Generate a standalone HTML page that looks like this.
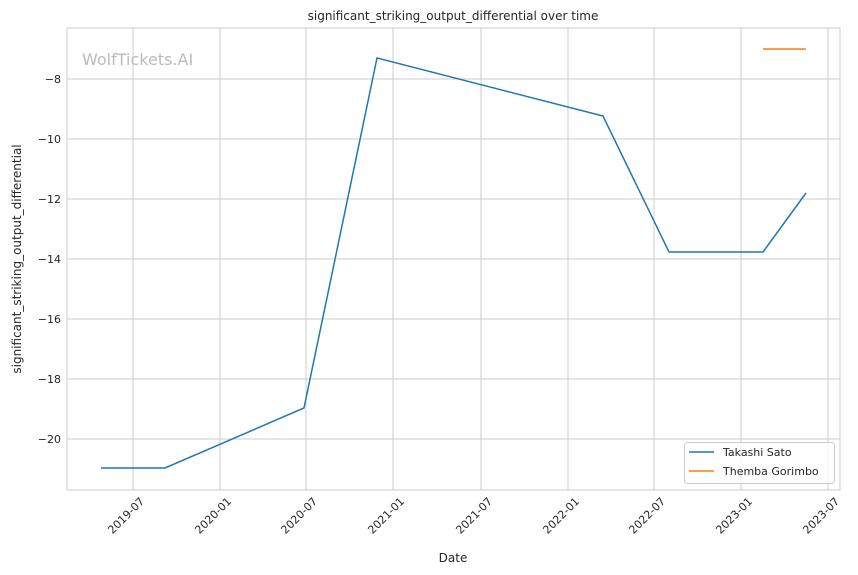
<!DOCTYPE html>
<html><head><meta charset="utf-8"><style>body{margin:0;background:#fff}svg{display:block}</style></head>
<body>
<svg width="858" height="575" xmlns="http://www.w3.org/2000/svg" font-family="DejaVu Sans, Liberation Sans, sans-serif">
<rect width="858" height="575" fill="#fff"/>
<g stroke="#cccccc" stroke-width="1">
<line x1="133" y1="28" x2="133" y2="490"/><line x1="220" y1="28" x2="220" y2="490"/><line x1="306" y1="28" x2="306" y2="490"/><line x1="393" y1="28" x2="393" y2="490"/><line x1="481" y1="28" x2="481" y2="490"/><line x1="568" y1="28" x2="568" y2="490"/><line x1="654" y1="28" x2="654" y2="490"/><line x1="741" y1="28" x2="741" y2="490"/><line x1="828" y1="28" x2="828" y2="490"/>
<line x1="67" y1="79" x2="840" y2="79"/><line x1="67" y1="139" x2="840" y2="139"/><line x1="67" y1="199" x2="840" y2="199"/><line x1="67" y1="259" x2="840" y2="259"/><line x1="67" y1="319" x2="840" y2="319"/><line x1="67" y1="379" x2="840" y2="379"/><line x1="67" y1="439" x2="840" y2="439"/>
</g>
<rect x="67" y="28" width="773" height="462" fill="none" stroke="#cccccc" stroke-width="1"/>
<text x="82" y="65" font-size="16" fill="#bbbbbb">WolfTickets.AI</text>
<polyline points="101,468 165,468 304,408 377,58 603,116 669,252 763,252 806,193" fill="none" stroke="#1f77b4" stroke-width="1.5"/>
<line x1="763" y1="49" x2="806" y2="49" stroke="#ff7f0e" stroke-width="1.5"/>
<g font-size="11" fill="#262626" text-anchor="end">
<text x="61" y="83">−8</text><text x="61" y="143">−10</text><text x="61" y="203">−12</text><text x="61" y="263">−14</text><text x="61" y="323">−16</text><text x="61" y="383">−18</text><text x="61" y="443">−20</text>
</g>
<g font-size="11" fill="#262626" text-anchor="end">
<text transform="translate(145,502) rotate(-45)">2019-07</text>
<text transform="translate(232,502) rotate(-45)">2020-01</text>
<text transform="translate(318,502) rotate(-45)">2020-07</text>
<text transform="translate(405,502) rotate(-45)">2021-01</text>
<text transform="translate(493,502) rotate(-45)">2021-07</text>
<text transform="translate(580,502) rotate(-45)">2022-01</text>
<text transform="translate(666,502) rotate(-45)">2022-07</text>
<text transform="translate(753,502) rotate(-45)">2023-01</text>
<text transform="translate(840,502) rotate(-45)">2023-07</text>
</g>
<text x="453" y="562" font-size="12" fill="#262626" text-anchor="middle">Date</text>
<text transform="translate(21,259) rotate(-90)" font-size="12" fill="#262626" text-anchor="middle">significant_striking_output_differential</text>
<text x="453" y="20" font-size="12" fill="#262626" text-anchor="middle">significant_striking_output_differential over time</text>
<rect x="684.5" y="442.5" width="150" height="41" rx="3" fill="#fff" fill-opacity="0.8" stroke="#cccccc"/>
<line x1="689" y1="452" x2="714" y2="452" stroke="#1f77b4" stroke-width="1.5"/>
<line x1="689" y1="471" x2="714" y2="471" stroke="#ff7f0e" stroke-width="1.5"/>
<text x="723" y="456" font-size="11" fill="#262626">Takashi Sato</text>
<text x="723" y="475" font-size="11" fill="#262626">Themba Gorimbo</text>
</svg>
</body></html>
